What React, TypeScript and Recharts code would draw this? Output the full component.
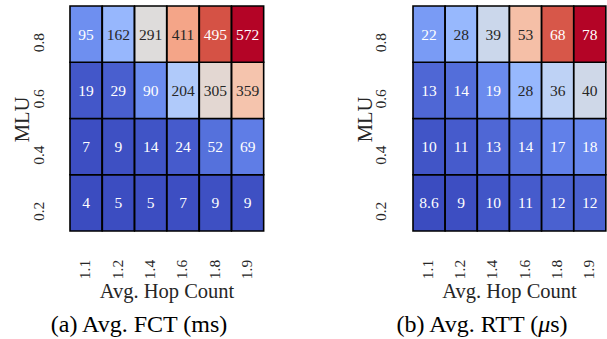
import { BarChart, Bar, Cell, XAxis, YAxis, LabelList, Label } from 'recharts';

const hopCounts = ['1.1', '1.2', '1.4', '1.6', '1.8', '1.9'];
// bottom -> top
const mluLevels = ['0.2', '0.4', '0.6', '0.8'];

const fctMlu02 = [4, 5, 5, 7, 9, 9];
const fctMlu04 = [7, 9, 14, 24, 52, 69];
const fctMlu06 = [19, 29, 90, 204, 305, 359];
const fctMlu08 = [95, 162, 291, 411, 495, 572];

const rttMlu02 = [8.6, 9, 10, 11, 12, 12];
const rttMlu04 = [10, 11, 13, 14, 17, 18];
const rttMlu06 = [13, 14, 19, 28, 36, 40];
const rttMlu08 = [22, 28, 39, 53, 68, 78];

const FONT = '"Liberation Serif", "Times New Roman", serif';

// matplotlib coolwarm, sampled
const coolwarm: [number, number, number, number][] = [
  [0, 59, 76, 192],
  [0.125, 98, 130, 234],
  [0.25, 141, 176, 254],
  [0.375, 184, 208, 249],
  [0.5, 221, 221, 221],
  [0.625, 245, 196, 173],
  [0.75, 244, 154, 123],
  [0.875, 210, 75, 64],
  [1, 180, 4, 38],
];

function cmap(t: number): [number, number, number] {
  const u = Math.max(0, Math.min(1, t));
  for (let i = 1; i < coolwarm.length; i++) {
    const [t1, r1, g1, b1] = coolwarm[i];
    const [t0, r0, g0, b0] = coolwarm[i - 1];
    if (u <= t1) {
      const f = (u - t0) / (t1 - t0);
      return [r0 + (r1 - r0) * f, g0 + (g1 - g0) * f, b0 + (b1 - b0) * f];
    }
  }
  return [180, 4, 38];
}

const toCss = (c: number[]) => `rgb(${c.map((v) => Math.round(v)).join(',')})`;

function luminance(c: number[]) {
  const lin = c.map((v) => {
    const s = v / 255;
    return s <= 0.03928 ? s / 12.92 : Math.pow((s + 0.055) / 1.055, 2.4);
  });
  return 0.2126 * lin[0] + 0.7152 * lin[1] + 0.0722 * lin[2];
}

type HeatProps = {
  rows: number[][];
  left: number;
  width: number;
  marginLeft: number;
  marginRight: number;
  yTickX: number;
  mluX: number;
};

function Heatmap({ rows, left, width, marginLeft, marginRight, yTickX, mluX }: HeatProps) {
  const all = rows.flat();
  const vmin = Math.min(...all);
  const vmax = Math.max(...all);
  const colorOf = (v: number) => cmap((v - vmin) / (vmax - vmin));

  const data = hopCounts.map((hop, i) => {
    const d: Record<string, number | string> = { hop };
    mluLevels.forEach((_, j) => {
      d[`m${j}`] = 1;
      d[`v${j}`] = rows[j][i];
    });
    return d;
  });

  return (
    <div style={{ position: 'absolute', left, top: 0 }}>
      <BarChart
        width={width}
        height={339}
        data={data}
        barCategoryGap={0}
        barGap={0}
        margin={{ top: 6, right: marginRight, bottom: 48, left: marginLeft }}
      >
        <XAxis
          dataKey="hop"
          axisLine={false}
          tickLine={false}
          height={60}
          interval={0}
          tick={(p: any) => (
            <text
              x={p.x - 1.5}
              y={269.5}
              transform={`rotate(-90, ${p.x - 1.5}, 269.5)`}
              textAnchor="middle"
              dominantBaseline="central"
              fontFamily={FONT}
              fontSize={15.5}
              fill="#262626"
            >
              {p.payload.value}
            </text>
          )}
        >
          <Label
            content={(p: any) => (
              <text
                x={p.viewBox.x + p.viewBox.width / 2}
                y={298}
                textAnchor="middle"
                fontFamily={FONT}
                fontSize={20.5}
                fill="#262626"
              >
                Avg. Hop Count
              </text>
            )}
          />
        </XAxis>
        <YAxis
          type="number"
          domain={[0, 4]}
          ticks={[0.5, 1.5, 2.5, 3.5]}
          axisLine={false}
          tickLine={false}
          width={50}
          tick={(p: any) => (
            <text
              x={yTickX}
              y={p.y + 8.5}
              transform={`rotate(-90, ${yTickX}, ${p.y + 8.5})`}
              textAnchor="middle"
              dominantBaseline="central"
              fontFamily={FONT}
              fontSize={15.5}
              fill="#262626"
            >
              {mluLevels[Math.floor(p.payload.value)]}
            </text>
          )}
        >
          <Label
            content={(p: any) => (
              <text
                x={mluX}
                y={p.viewBox.y + p.viewBox.height / 2 + 1}
                transform={`rotate(-90, ${mluX}, ${p.viewBox.y + p.viewBox.height / 2 + 1})`}
                textAnchor="middle"
                dominantBaseline="central"
                fontFamily={FONT}
                fontSize={20.5}
                fill="#262626"
              >
                MLU
              </text>
            )}
          />
        </YAxis>
        {mluLevels.map((_, j) => (
          <Bar key={j} dataKey={`m${j}`} stackId="a" isAnimationActive={false}>
            {hopCounts.map((__, i) => (
              <Cell key={i} fill={toCss(colorOf(rows[j][i]))} stroke="#000" strokeWidth={1.6} />
            ))}
            <LabelList
              dataKey={`v${j}`}
              content={(p: any) => {
                const c = colorOf(Number(p.value));
                return (
                  <text
                    x={p.x + p.width / 2}
                    y={p.y + p.height / 2}
                    textAnchor="middle"
                    dominantBaseline="central"
                    fontFamily={FONT}
                    fontSize={15.5}
                    fill={luminance(c) > 0.408 ? '#262626' : '#ffffff'}
                  >
                    {p.value}
                  </text>
                );
              }}
            />
          </Bar>
        ))}
      </BarChart>
    </div>
  );
}

export default function App() {
  return (
    <div style={{ position: 'absolute', left: 0, top: 0, width: 607, height: 339, background: '#fff' }}>
      <Heatmap
        rows={[fctMlu02, fctMlu04, fctMlu06, fctMlu08]}
        left={0}
        width={300}
        marginLeft={20}
        marginRight={36}
        yTickX={38}
        mluX={21.5}
      />
      <Heatmap
        rows={[rttMlu02, rttMlu04, rttMlu06, rttMlu08]}
        left={300}
        width={307}
        marginLeft={63}
        marginRight={1}
        yTickX={80}
        mluX={65}
      />
      <svg width={607} height={339} style={{ position: 'absolute', left: 0, top: 0, pointerEvents: 'none' }}>
        <text x={139} y={332} textAnchor="middle" fontFamily={FONT} fontSize={24} fill="#000">
          (a) Avg. FCT (ms)
        </text>
        <text x={482} y={332} textAnchor="middle" fontFamily={FONT} fontSize={24} fill="#000">
          (b) Avg. RTT (<tspan fontStyle="italic">μ</tspan>s)
        </text>
      </svg>
    </div>
  );
}
